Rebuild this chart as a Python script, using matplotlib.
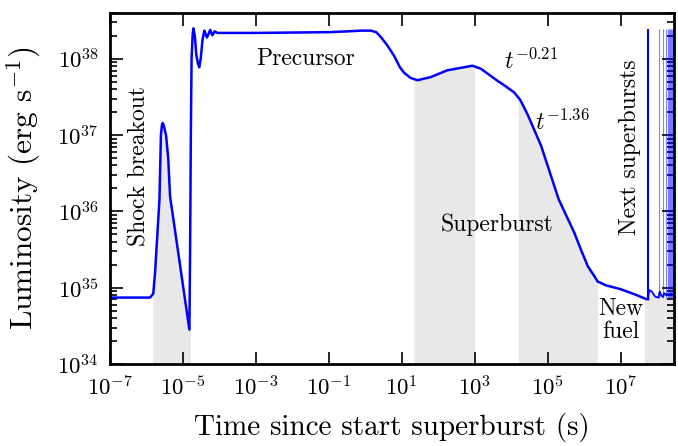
import numpy as np
import matplotlib
matplotlib.use("Agg")
from matplotlib import pyplot as plt
from matplotlib.ticker import FixedLocator, NullLocator, LogLocator

plt.rcParams['font.family'] = 'serif'
plt.rcParams['font.serif'] = ['cmr10']
plt.rcParams['mathtext.fontset'] = 'cm'
plt.rcParams['axes.unicode_minus'] = False
plt.rcParams['axes.formatter.use_mathtext'] = True

# light curve (log10 time [s], log10 luminosity [erg/s])
log_t = [-7.0, -5.90, -5.81, -5.76, -5.71, -5.64, -5.60, -5.57, -5.55, -5.52,
         -5.46, -5.40, -5.35, -4.82, -4.80, -4.78, -4.76, -4.73, -4.71, -4.67,
         -4.63, -4.58, -4.55, -4.51, -4.46, -4.41, -4.37, -4.34, -4.30, -4.25,
         -4.21, -4.19, -4.16, -4.13, -4.09, -4.05, -3.0, -2.0, -1.0, -0.5,
         -0.1, 0.15, 0.3, 0.42, 0.6, 0.79, 0.95, 1.06, 1.24, 1.43, 1.79, 2.25, 2.71,
         2.94, 3.17, 3.4, 3.63, 3.85, 4.08, 4.25, 4.45, 4.82, 5.30, 5.73, 5.91, 6.10,
         6.28, 6.37, 6.60, 7.00, 7.40, 7.70, 7.75]
log_L = [34.87, 34.87, 34.92, 35.2, 35.6, 36.16, 37.0, 37.14, 37.16, 37.12,
         37.0, 36.7, 36.2, 34.45, 35.5, 37.0, 38.0, 38.32, 38.40, 38.3,
         38.05, 37.93, 37.89, 38.0, 38.25, 38.37, 38.32, 38.28, 38.32, 38.38,
         38.33, 38.31, 38.33, 38.36, 38.35, 38.34, 38.34, 38.345, 38.35, 38.36,
         38.37, 38.37, 38.35, 38.29, 38.18, 38.04, 37.89, 37.82, 37.75, 37.72, 37.76, 37.85, 37.89,
         37.91, 37.87, 37.79, 37.71, 37.64, 37.56, 37.46, 37.27, 36.86, 36.16, 35.72, 35.5, 35.28,
         35.15, 35.08, 35.03, 34.98, 34.91, 34.85, 34.85]

# quiescent level between the next superbursts
base_log_t = [7.75, 7.78, 7.85, 7.95, 8.04, 8.07, 8.12, 8.16, 8.19, 8.25, 8.28, 8.33, 8.36, 8.5]
base_log_L = [34.85, 34.97, 34.95, 34.88, 34.87, 34.95, 34.89, 34.88, 34.93, 34.90, 34.92, 34.90, 34.92, 34.91]

# next superburst spikes
spike_log_t = [7.75, 8.04, 8.16, 8.25, 8.29, 8.33, 8.36, 8.39, 8.42, 8.44, 8.46]
spike_log_peak = 38.39

# shaded phases (log10 time)
shock_phase = (-5.82, -4.79)
superburst_phases = [(1.335, 3.0), (4.19, 6.37)]
next_phase = (7.65, 8.5)

t = 10.0 ** np.array(log_t)
L = 10.0 ** np.array(log_L)
tb = 10.0 ** np.array(base_log_t)
Lb = 10.0 ** np.array(base_log_L)

fig = plt.figure(figsize=(6.78, 4.46), dpi=100)
ax = fig.add_axes([0.162, 0.184, 0.832, 0.787])

shade = '#e8e8e8'
for a, b in [shock_phase] + superburst_phases:
    xs = np.linspace(a, b, 200)
    ys = np.interp(xs, log_t, log_L)
    ax.fill_between(10 ** xs, 1e34, 10 ** ys, color=shade, lw=0, zorder=0)
xs = np.linspace(next_phase[0], next_phase[1], 200)
ys = np.interp(xs, log_t + base_log_t[1:], log_L + base_log_L[1:])
ax.fill_between(10 ** xs, 1e34, 10 ** ys, color=shade, lw=0, zorder=0)

ax.plot(t, L, color='blue', lw=1.8)
ax.plot(tb, Lb, color='blue', lw=1.3)
for i, s in enumerate(spike_log_t):
    ax.vlines(10 ** s, 10 ** 34.87, 10 ** spike_log_peak, color='blue',
              lw=1.5 if i == 0 else 0.8, alpha=1.0 if i == 0 else 0.5)

ax.set_xscale('log')
ax.set_yscale('log')
ax.set_xlim(1e-7, 10 ** 8.46)
ax.set_ylim(1e34, 4e38)

xt = [10.0 ** k for k in range(-7, 8, 2)]
ax.xaxis.set_major_locator(FixedLocator(xt))
ax.set_xticklabels([r'$10^{%d}$' % k for k in range(-7, 8, 2)])
ax.xaxis.set_minor_locator(NullLocator())
yt = [10.0 ** k for k in range(34, 39)]
ax.yaxis.set_major_locator(FixedLocator(yt))
ax.set_yticklabels([r'$10^{%d}$' % k for k in range(34, 39)])
ax.yaxis.set_minor_locator(LogLocator(base=10, subs=np.arange(2, 10), numticks=20))

ax.tick_params(which='both', direction='in', top=True, right=True, labelsize=16.5, width=1.2)
ax.tick_params(which='major', length=9, pad=8)
ax.tick_params(which='minor', length=5)
for sp in ax.spines.values():
    sp.set_linewidth(2)

ax.set_xlabel('Time since start superburst (s)', fontsize=21, labelpad=10)
ax.set_ylabel(r'Luminosity (erg s$^{-1}$)', fontsize=22.5, labelpad=10)

fs = 17
ax.text(10 ** -6.18, 10 ** 36.6, 'Shock breakout', rotation=90, ha='center', va='center', fontsize=fs)
ax.text(10 ** -1.64, 10 ** 38.0, 'Precursor', ha='center', va='center', fontsize=fs)
ax.text(10 ** 4.55, 10 ** 37.97, r'$t^{-0.21}$', ha='center', va='center', fontsize=fs)
ax.text(10 ** 5.4, 10 ** 37.17, r'$t^{-1.36}$', ha='center', va='center', fontsize=fs)
ax.text(10 ** 3.6, 10 ** 35.83, 'Superburst', ha='center', va='center', fontsize=fs)
ax.text(10 ** 7.01, 10 ** 34.57, 'New\nfuel', ha='center', va='center', fontsize=fs, linespacing=1.0)
ax.text(10 ** 7.25, 10 ** 36.84, 'Next superbursts', rotation=90, ha='center', va='center', fontsize=fs)

fig.savefig('out.png', dpi=100)
